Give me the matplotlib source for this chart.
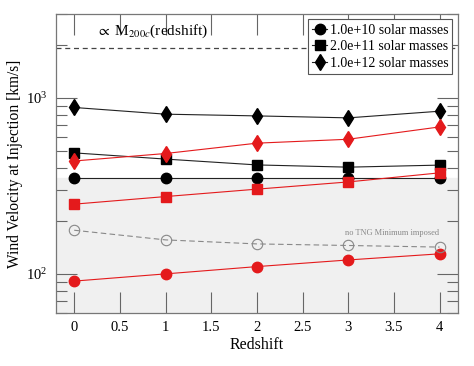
import matplotlib
matplotlib.use("Agg")
import matplotlib.pyplot as plt
from matplotlib.ticker import LogLocator, NullFormatter

plt.rcParams['font.family'] = ['Liberation Serif', 'DejaVu Serif']
plt.rcParams['mathtext.fontset'] = 'stix'

redshift = [0, 1, 2, 3, 4]
labels = ['1.0e+10 solar masses', '2.0e+11 solar masses', '1.0e+12 solar masses']
black_circle = [350, 350, 350, 350, 350]
black_square = [487, 449, 416, 404, 415]
black_diamond = [882, 808, 790, 770, 840]
red_circle = [91, 100, 110, 120, 130]
red_square = [249, 275, 303, 333, 375]
red_diamond = [438, 483, 553, 582, 684]
no_min = [177, 156, 148, 145, 142]
tng_min = 350
m200_level = 1930

RED = '#e41a1c'
fig, ax = plt.subplots(figsize=(4.74, 3.66), dpi=100)
fig.subplots_adjust(left=0.118, right=0.966, top=0.962, bottom=0.145)

ax.set_yscale('log')
ax.set_xlim(-0.2, 4.2)
ax.set_ylim(60, 3000)

ax.axhspan(1, tng_min, color='#f0f0f0', zorder=0)
ax.axhline(m200_level, color='#444444', ls=(0, (4, 3)), lw=0.9)

lk = dict(color='#222222', lw=0.8)
ax.plot(redshift, black_circle, marker='o', ms=7.5, mfc='black', mec='black', label=labels[0], **lk)
ax.plot(redshift, black_square, marker='s', ms=6.5, mfc='black', mec='black', label=labels[1], **lk)
ax.plot(redshift, black_diamond, marker='d', ms=8, mfc='black', mec='black', label=labels[2], **lk)

rk = dict(color=RED, lw=0.8)
ax.plot(redshift, red_circle, marker='o', ms=7.5, mfc=RED, mec=RED, **rk)
ax.plot(redshift, red_square, marker='s', ms=6.5, mfc=RED, mec=RED, **rk)
ax.plot(redshift, red_diamond, marker='d', ms=8, mfc=RED, mec=RED, **rk)

ax.plot(redshift, no_min, marker='o', ms=7.5, mfc='none', mec='#888888', color='#888888',
        lw=0.8, ls=(0, (5, 3)), mew=0.8)
ax.text(3.48, 163, 'no TNG Minimum imposed', color='#888888', fontsize=6, ha='center', va='bottom')
ax.text(0.24, 2400, r'$\propto$ M$_{200c}$(redshift)', fontsize=11, ha='left', va='center')

ax.set_xticks([0, 0.5, 1, 1.5, 2, 2.5, 3, 3.5, 4])
ax.set_xticklabels(['0', '0.5', '1', '1.5', '2', '2.5', '3', '3.5', '4'])
ax.yaxis.set_major_locator(LogLocator(base=10, numticks=10))
ax.yaxis.set_minor_locator(LogLocator(base=10, subs=range(2, 10), numticks=10))
ax.yaxis.set_minor_formatter(NullFormatter())

ax.tick_params(which='major', direction='in', length=15, width=0.8, color='#666666',
               top=True, right=True, labelsize=10.5, pad=6)
ax.tick_params(which='minor', direction='in', length=8, width=0.8, color='#666666',
               top=True, right=True)
ax.tick_params(axis='x', which='minor', bottom=False, top=False)
for s in ax.spines.values():
    s.set_color('#777777')
    s.set_linewidth(0.9)

ax.set_xlabel('Redshift', fontsize=11.5, labelpad=2)
ax.set_ylabel('Wind Velocity at Injection [km/s]', fontsize=11.2, labelpad=2)

leg = ax.legend(loc='upper right', fontsize=10, fancybox=False, edgecolor='#555555',
                framealpha=1, handlelength=1.1, handletextpad=0.15, borderpad=0.3,
                labelspacing=0.25, borderaxespad=0.4)
leg.get_frame().set_linewidth(0.8)

fig.savefig('out.png', dpi=100)
